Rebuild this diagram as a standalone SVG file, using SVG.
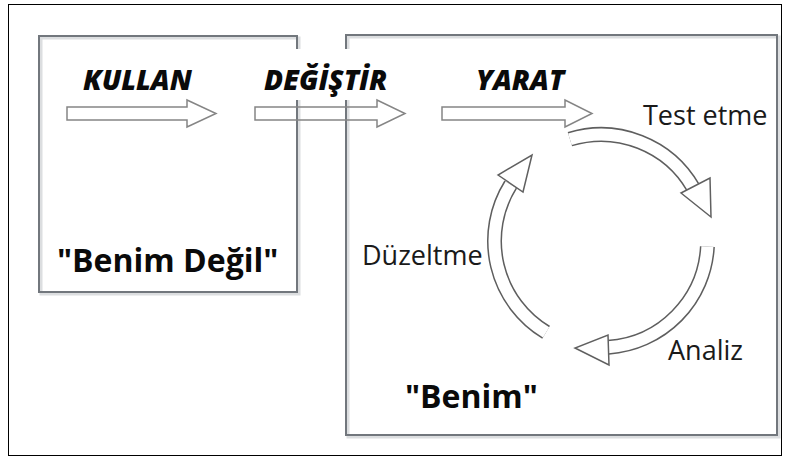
<svg xmlns="http://www.w3.org/2000/svg" width="787" height="461" viewBox="0 0 787 461">
<defs>
<style>
.frame{fill:#ffffff;stroke:#000000;stroke-width:1}
.box{fill:none;stroke:#72777d;stroke-width:2}
.shadow{fill:none;stroke:#dcdee0;stroke-width:3}
.arw{fill:#ffffff;stroke:#858585;stroke-width:1.5;stroke-linejoin:miter}
.ringO{fill:none;stroke:#5e5e5e;stroke-width:15}
.ringI{fill:none;stroke:#ffffff;stroke-width:12}
.head{fill:#ffffff;stroke:#606060;stroke-width:1.5;stroke-linejoin:miter}
.step{font-family:"Open Sans","Liberation Sans",sans-serif;font-weight:800;font-style:italic;font-size:28px;fill:#0a0a0a}
.lbl{font-family:"Open Sans","Liberation Sans",sans-serif;font-weight:500;font-size:27px;fill:#1a1a1a}
.title{font-family:"Open Sans","Liberation Sans",sans-serif;font-weight:bold;font-size:32px;fill:#0a0a0a}
</style>
</defs>
<rect x="0" y="0" width="787" height="461" fill="#ffffff"/>
<rect class="frame" x="8.5" y="4.5" width="773" height="451"/>

<g id="box-benim-degil">
<rect class="shadow" x="41" y="38" width="258" height="256"/>
<rect class="box" x="39" y="36" width="258" height="256"/>
<text class="title" x="57" y="272">"Benim Değil"</text>
</g>

<g id="box-benim">
<rect class="shadow" x="348" y="37" width="431" height="400"/>
<rect class="box" x="346" y="35" width="431" height="400"/>
<text class="title" x="405" y="408" font-size="31">"Benim"</text>
</g>

<rect x="288" y="49" width="66" height="51" fill="#ffffff"/>

<g id="connectors">
<polygon id="arrow-kullan" class="arw" points="67,107 187,107 187,100 216,113.5 187,127 187,120 67,120"/>
<polygon id="arrow-degistir" class="arw" points="255,107 377,107 377,100 405,113.5 377,127 377,120 255,120" style="fill:none"/>
<polygon id="arrow-yarat" class="arw" points="442,107 565,107 565,100 592,113.5 565,127 565,120 442,120"/>
<g id="cycle-test">
<path class="ringO" d="M569.9,139.2 A106.5,106.5 0 0 1 693.2,187.75"/>
<path class="ringI" d="M569.9,139.2 A106.5,106.5 0 0 1 693.2,187.75"/>
<polygon class="head" points="681,193 710,178 711,217"/>
</g>
<g id="cycle-analiz">
<path class="ringO" d="M707.4,246.6 A106.5,106.5 0 0 1 608.4,347.2"/>
<path class="ringI" d="M707.4,246.6 A106.5,106.5 0 0 1 608.4,347.2"/>
<polygon class="head" points="608,335 609,365 575,348"/>
</g>
<g id="cycle-duzeltme">
<path class="ringO" d="M546.1,332.3 A106.5,106.5 0 0 1 510.7,184.6"/>
<path class="ringI" d="M546.1,332.3 A106.5,106.5 0 0 1 510.7,184.6"/>
<polygon class="head" points="498,175 523,192 532,155"/>
</g>
</g>

<g id="label-kullan"><text class="step" x="83" y="90">KULLAN</text></g>
<g id="label-degistir"><text class="step" x="264" y="90">DEĞİŞTİR</text></g>
<g id="label-yarat"><text class="step" x="476" y="90">YARAT</text></g>
<g id="label-test"><text class="lbl" x="643" y="125">Test etme</text></g>
<g id="label-duzeltme"><text class="lbl" x="362" y="265">Düzeltme</text></g>
<g id="label-analiz"><text class="lbl" x="668" y="360">Analiz</text></g>
</svg>
